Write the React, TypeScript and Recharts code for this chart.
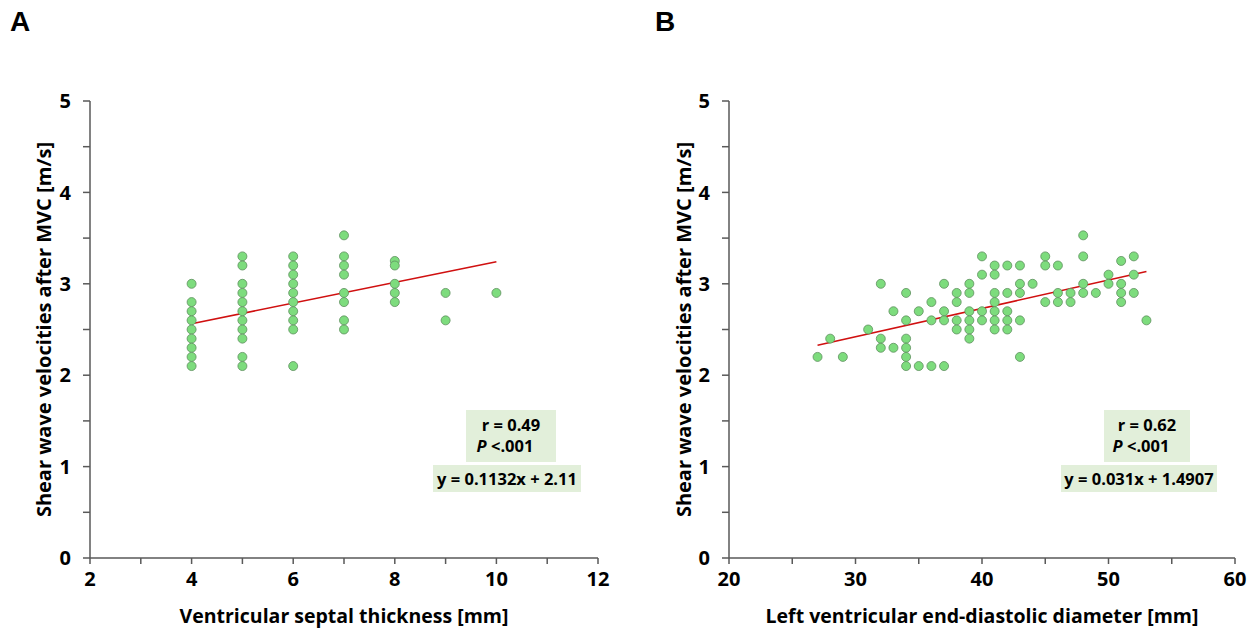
import React from "react";
import {
  ScatterChart,
  Scatter,
  XAxis,
  YAxis,
  ReferenceLine,
} from "recharts";

// Panel A: ventricular septal thickness [mm] vs velocity [m/s]
const septalMm = [4, 5, 6, 7, 8, 9, 10];
const septalVelocities = [
  [3.0, 2.8, 2.7, 2.6, 2.5, 2.4, 2.3, 2.2, 2.1],
  [3.3, 3.2, 3.0, 2.9, 2.8, 2.7, 2.6, 2.5, 2.4, 2.2, 2.1],
  [3.3, 3.2, 3.1, 3.0, 2.9, 2.8, 2.7, 2.6, 2.5, 2.1],
  [3.53, 3.3, 3.2, 3.1, 2.9, 2.8, 2.6, 2.5],
  [3.25, 3.2, 3.0, 2.9, 2.8],
  [2.9, 2.6],
  [2.9],
];
const septalFit = { slope: 0.1132, intercept: 2.11, from: 4, to: 10 };
const septalTicks = [2, 3, 4, 5, 6, 7, 8, 9, 10, 11, 12];

// Panel B: LV end-diastolic diameter [mm] vs velocity [m/s]
const lvddMm = [27, 28, 29, 31, 32, 33, 34, 35, 36, 37, 38, 39, 40, 41, 42, 43, 44, 45, 46, 47, 48, 49, 50, 51, 52, 53];
const lvddVelocities = [
  [2.2],
  [2.4],
  [2.2],
  [2.5],
  [3.0, 2.4, 2.3],
  [2.7, 2.3],
  [2.9, 2.6, 2.4, 2.3, 2.2, 2.1],
  [2.7, 2.1],
  [2.8, 2.6, 2.1],
  [3.0, 2.7, 2.6, 2.1],
  [2.9, 2.8, 2.6, 2.5],
  [3.0, 2.9, 2.7, 2.6, 2.5, 2.4],
  [3.3, 3.1, 2.7, 2.6],
  [3.2, 3.1, 2.9, 2.8, 2.7, 2.6, 2.5],
  [3.2, 2.9, 2.7, 2.6, 2.5],
  [3.2, 3.0, 2.9, 2.6, 2.2],
  [3.0],
  [3.3, 3.2, 2.8],
  [3.2, 2.9, 2.8],
  [2.9, 2.8],
  [3.53, 3.3, 3.0, 2.9],
  [2.9],
  [3.1, 3.0],
  [3.25, 3.0, 2.9, 2.8],
  [3.3, 3.1, 2.9],
  [2.6],
];
const lvddFit = { slope: 0.031, intercept: 1.4907, from: 27, to: 53 };
const lvddTicks = [20, 25, 30, 35, 40, 45, 50, 55, 60];

const velocityTicks = [0, 0.5, 1, 1.5, 2, 2.5, 3, 3.5, 4, 4.5, 5];

const FONT = "'Open Sans', sans-serif";
const AXIS = "#595959";
const tickStyle = { fill: "#000", fontSize: 20, fontWeight: 700, fontFamily: FONT };

const toPoints = (xs: number[], ys: number[][]) =>
  xs.flatMap((x, i) => ys[i].map((y) => ({ x, y })));

const Dot = (props: any) => (
  <circle cx={props.cx} cy={props.cy} r={4.5} fill="#7ddc7d" stroke="#5e8f5e" strokeWidth={0.8} />
);

function Panel(props: {
  width: number;
  yAxisWidth: number;
  titleOffset: number;
  domain: [number, number];
  ticks: number[];
  majorStep: number;
  points: { x: number; y: number }[];
  fit: { slope: number; intercept: number; from: number; to: number };
  xTitle: string;
}) {
  const { fit } = props;
  return (
    <ScatterChart
      width={props.width}
      height={628}
      margin={{ top: 101, right: 14, bottom: 0, left: 20 }}
      style={{ fontFamily: FONT }}
    >
      <XAxis
        type="number"
        dataKey="x"
        domain={props.domain}
        ticks={props.ticks}
        interval={0}
        height={70}
        tickSize={6}
        tickMargin={8}
        stroke={AXIS}
        strokeWidth={1.5}
        tick={tickStyle}
        tickFormatter={(v: number) => (v % props.majorStep === 0 ? String(v) : "")}
        label={{
          value: props.xTitle,
          position: "insideBottom",
          offset: 5,
          style: { fill: "#000", fontSize: 19.5, fontWeight: 700, fontFamily: FONT },
        }}
      />
      <YAxis
        type="number"
        dataKey="y"
        domain={[0, 5]}
        ticks={velocityTicks}
        interval={0}
        width={props.yAxisWidth}
        tickSize={7}
        tickMargin={12}
        stroke={AXIS}
        strokeWidth={1.5}
        tick={tickStyle}
        tickFormatter={(v: number) => (v % 1 === 0 ? String(v) : "")}
        label={{
          value: "Shear wave velocities after MVC [m/s]",
          angle: -90,
          position: "insideLeft",
          offset: props.titleOffset,
          style: { textAnchor: "middle", fill: "#000", fontSize: 20, fontWeight: 700, fontFamily: FONT },
        }}
      />
      <Scatter data={props.points} shape={Dot} isAnimationActive={false} />
      <ReferenceLine
        segment={[
          { x: fit.from, y: fit.slope * fit.from + fit.intercept },
          { x: fit.to, y: fit.slope * fit.to + fit.intercept },
        ]}
        stroke="#d01010"
        strokeWidth={1.6}
        ifOverflow="visible"
      />
    </ScatterChart>
  );
}

const boxText: React.CSSProperties = {
  position: "absolute",
  background: "#e2efda",
  color: "#000",
  fontFamily: FONT,
  fontWeight: 700,
  fontSize: 16.5,
  textAlign: "center",
  boxSizing: "border-box",
  whiteSpace: "nowrap",
};

function StatBox(props: { left1: number; w1: number; left2: number; w2: number; r: string; eq: string }) {
  return (
    <>
      <div style={{ ...boxText, left: props.left1, top: 410, width: props.w1, height: 52, paddingTop: 4, lineHeight: "21px" }}>
        <div>{props.r}</div>
        <div style={{ paddingRight: 12 }}>
          <i>P</i> {"<.001"}
        </div>
      </div>
      <div style={{ ...boxText, left: props.left2, top: 465, width: props.w2, height: 27, lineHeight: "27px" }}>
        {props.eq}
      </div>
    </>
  );
}

export default function App() {
  const letter: React.CSSProperties = {
    position: "absolute",
    top: 6,
    fontFamily: "'Liberation Sans', Arial, sans-serif",
    fontWeight: 700,
    fontSize: 28,
    color: "#000",
  };
  return (
    <div style={{ position: "absolute", left: 0, top: 0, width: 1249, height: 628, background: "#fff", overflow: "hidden" }}>
      <div style={{ position: "absolute", left: 0, top: 0 }}>
        <Panel
          width={612}
          yAxisWidth={70}
          titleOffset={24}
          domain={[2, 12]}
          ticks={septalTicks}
          majorStep={2}
          points={toPoints(septalMm, septalVelocities)}
          fit={septalFit}
          xTitle="Ventricular septal thickness [mm]"
        />
      </div>
      <div style={{ position: "absolute", left: 620, top: 0 }}>
        <Panel
          width={629}
          yAxisWidth={89}
          titleOffset={44}
          domain={[20, 60]}
          ticks={lvddTicks}
          majorStep={10}
          points={toPoints(lvddMm, lvddVelocities)}
          fit={lvddFit}
          xTitle="Left ventricular end-diastolic diameter [mm]"
        />
      </div>
      <div style={{ ...letter, left: 10 }}>A</div>
      <div style={{ ...letter, left: 655 }}>B</div>
      <StatBox left1={466} w1={90} left2={433} w2={148} r="r = 0.49" eq="y = 0.1132x + 2.11" />
      <StatBox left1={1104} w1={86} left2={1061} w2={156} r="r = 0.62" eq="y = 0.031x + 1.4907" />
    </div>
  );
}
